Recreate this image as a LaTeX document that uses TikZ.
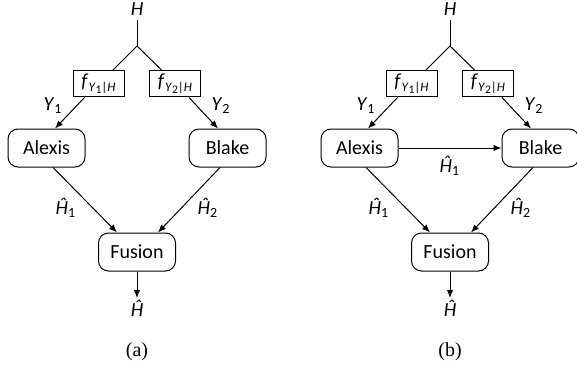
\documentclass[tikz,border=0pt]{standalone}
\usepackage{fontspec}
\setmainfont{Carlito}
\newfontfamily\capfont{Liberation Serif}
\usetikzlibrary{arrows.meta,calc}
\newcommand\mysub[1]{\textsubscript{#1}}
\newcommand\fsub[1]{\raisebox{-0.45ex}{\fontsize{6.5}{7}\selectfont\textit{Y}\raisebox{-0.25ex}{\fontsize{5.8}{6}\selectfont #1}|\textit{H}}}
\newcommand\drawpanel[3]{%
  \begin{scope}[shift={(#2,0)}]
    \node[lbl] (#1H) at (137,9) {\textit{H}};
    \coordinate (#1j) at (137,46);
    \node[fbx] (#1f1) at (98.5,84) {\textit{f}\fsub{1}};
    \node[fbx] (#1f2) at (175,84) {\textit{f}\fsub{2}};
    \node[proc] (#1A) at (46.5,148) {Alexis};
    \node[proc] (#1B) at (227.5,148) {Blake};
    \node[proc] (#1F) at (137,252) {Fusion};
    \node[lbl, anchor=north, inner sep=1pt] (#1out) at (137,298) {\textit{Ĥ}};
    \node[lbl] (#1cap) at (137,352) {\capfont (#3)};
    \draw[conn] (#1H.south) -- (#1j);
    \draw[conn] (#1j) -- ($(#1f1.north east)+(-12,0)$);
    \draw[conn] (#1j) -- ($(#1f2.north west)+(13,0)$);
    \draw[arr] ($(#1f1.south west)+(12,0)$) -- ($(#1A.north)+(8.5,0)$);
    \draw[arr] ($(#1f2.south east)+(-12,0)$) -- ($(#1B.north)+(-9.5,0)$);
    \draw[arr] ($(#1A.south)+(6.5,0)$) -- ($(#1F.north)+(-20,0)$);
    \draw[arr] ($(#1B.south)+(-7.5,0)$) -- ($(#1F.north)+(21,0)$);
    \draw[arr] (#1F.south) -- (#1out.north);
    \node[lbl] (#1y1) at (53,106) {\textit{Y}\mysub{1}};
    \node[lbl] (#1y2) at (221,106) {\textit{Y}\mysub{2}};
    \node[lbl] (#1h1) at (66,208) {\textit{Ĥ}\mysub{1}};
    \node[lbl] (#1h2) at (208,208) {\textit{Ĥ}\mysub{2}};
  \end{scope}}
\begin{document}
\begin{tikzpicture}[x=0.5pt,y=-0.5pt, font=\fontsize{10}{12}\selectfont,
  proc/.style={draw, rounded corners=5pt, minimum width=38.5pt, minimum height=19pt, inner sep=0pt, line width=0.5pt},
  fbx/.style={draw, minimum width=25.5pt, minimum height=13pt, inner sep=0pt, line width=0.5pt},
  lbl/.style={inner sep=2pt},
  conn/.style={line width=0.5pt},
  arr/.style={conn, -{Latex[length=4pt,width=3.2pt]}}]
\useasboundingbox (0,0) rectangle (577,369);
\drawpanel{a}{0}{a}
\drawpanel{b}{313}{b}
\draw[arr] (bA.east) -- (bB.west) node[midway, below=4pt, inner sep=0pt] (bh1m) {\textit{Ĥ}\mysub{1}};
\end{tikzpicture}
\end{document}
